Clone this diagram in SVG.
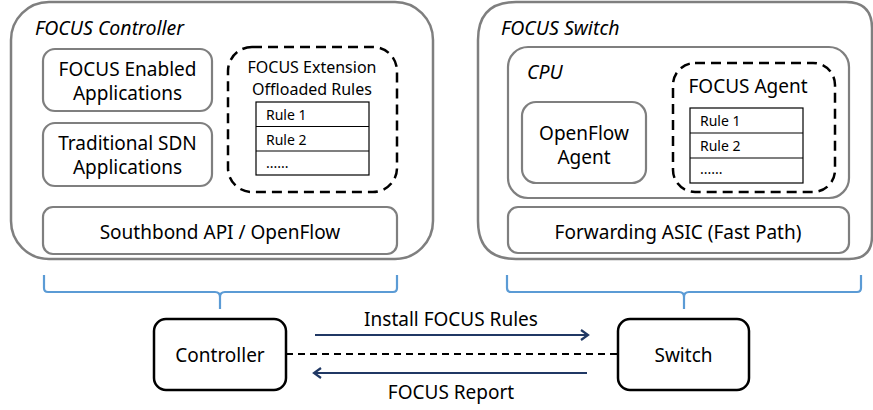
<svg xmlns="http://www.w3.org/2000/svg" width="873" height="410" viewBox="0 0 873 410">
<defs>
<style>
text{font-family:"Noto Sans","Open Sans","DejaVu Sans",sans-serif;fill:#000;}
.lbl{font-size:19px;text-anchor:middle;}
.ital{font-size:19.5px;font-style:italic;}
.small{font-size:16px;text-anchor:middle;}
.rule{font-size:14px;}
.outer{fill:#fff;stroke:#7f7f7f;stroke-width:2.5;}
.inner{fill:#fff;stroke:#7f7f7f;stroke-width:2.2;}
.dash{fill:none;stroke:#000;stroke-width:2.5;stroke-dasharray:10 6;}
.tbl{fill:#fff;stroke:#000;stroke-width:1.2;}
.brace{fill:none;stroke:#5b9bd5;stroke-width:2.2;}
.node{fill:#fff;stroke:#000;stroke-width:2.5;}
.arrow{fill:none;stroke:#203864;stroke-width:2.2;}
</style>
<marker id="ah" markerUnits="userSpaceOnUse" markerWidth="14" markerHeight="14" refX="10" refY="7" orient="auto">
<path d="M3,2 L10,7 L3,12" fill="none" stroke="#203864" stroke-width="2.2"/>
</marker>
</defs>

<g id="focus-controller">
<rect class="outer" x="11" y="2" width="422" height="257" rx="38" ry="38"/>
<text class="ital" x="35" y="35">FOCUS Controller</text>
<g id="focus-enabled-apps">
<rect class="inner" x="43" y="49" width="169" height="62" rx="12"/>
<text class="lbl" x="127.5" y="76">FOCUS Enabled</text>
<text class="lbl" x="127.5" y="100">Applications</text>
</g>
<g id="traditional-sdn-apps">
<rect class="inner" x="43" y="123" width="169" height="63" rx="12"/>
<text class="lbl" x="127.5" y="150">Traditional SDN</text>
<text class="lbl" x="127.5" y="174">Applications</text>
</g>
<g id="focus-extension">
<rect class="dash" x="228" y="47" width="169" height="145" rx="24"/>
<text class="small" x="312" y="73">FOCUS Extension</text>
<text class="small" x="312" y="95">Offloaded  Rules</text>
<rect class="tbl" x="256" y="102" width="113" height="73"/>
<line class="tbl" x1="256" y1="126.5" x2="369" y2="126.5"/>
<line class="tbl" x1="256" y1="151" x2="369" y2="151"/>
<text class="rule" x="266" y="120">Rule 1</text>
<text class="rule" x="266" y="145">Rule 2</text>
<text class="rule" x="266" y="168">......</text>
</g>
<g id="southbound-api">
<rect class="inner" x="43" y="207" width="354" height="47" rx="10"/>
<text class="lbl" x="220" y="239">Southbond  API / OpenFlow</text>
</g>
</g>

<g id="focus-switch">
<path class="outer" d="M516,2 H846 Q872,2 872,28 V236 Q872,259 849,259 H516 Q478,259 478,221 V40 Q478,2 516,2 Z"/>
<text class="ital" x="501" y="35">FOCUS Switch</text>
<g id="cpu">
<rect class="inner" x="508" y="47" width="341" height="151" rx="20"/>
<text class="ital" x="527" y="79">CPU</text>
</g>
<g id="openflow-agent">
<rect class="inner" x="522" y="102" width="124" height="81" rx="14"/>
<text class="lbl" x="584" y="140">OpenFlow</text>
<text class="lbl" x="584" y="164">Agent</text>
</g>
<g id="focus-agent">
<rect class="dash" x="673" y="63" width="162" height="129" rx="22"/>
<text class="lbl" x="748" y="93">FOCUS Agent</text>
<rect class="tbl" x="690" y="108" width="113" height="75"/>
<line class="tbl" x1="690" y1="133" x2="803" y2="133"/>
<line class="tbl" x1="690" y1="158" x2="803" y2="158"/>
<text class="rule" x="700" y="126">Rule 1</text>
<text class="rule" x="700" y="151">Rule 2</text>
<text class="rule" x="700" y="174">......</text>
</g>
<g id="forwarding-asic">
<rect class="inner" x="508" y="207" width="341" height="46" rx="10"/>
<text class="lbl" x="678" y="239">Forwarding ASIC (Fast Path)</text>
</g>
</g>

<g id="controller">
<rect class="node" x="154" y="319" width="132" height="71" rx="12"/>
<text class="lbl" x="220" y="362">Controller</text>
</g>
<g id="switch">
<rect class="node" x="618" y="319" width="131" height="71" rx="12"/>
<text class="lbl" x="683.5" y="362">Switch</text>
</g>

<g id="connectors">
<path class="brace" d="M44,275 V288 Q44,292 48,292 H215 Q220,292 220,297 V309 M220,297 Q220,292 225,292 H393 Q397,292 397,288 V275"/>
<path class="brace" d="M507,275 V288 Q507,292 511,292 H679 Q684,292 684,297 V309 M684,297 Q684,292 689,292 H857 Q861,292 861,288 V275"/>
<line x1="286" y1="354" x2="618" y2="354" stroke="#000" stroke-width="2.2" stroke-dasharray="7 5"/>
<line class="arrow" x1="315" y1="335" x2="588" y2="335" marker-end="url(#ah)"/>
<line class="arrow" x1="587" y1="373" x2="314" y2="373" marker-end="url(#ah)"/>
<text class="lbl" x="451" y="326">Install FOCUS Rules</text>
<text class="lbl" x="451" y="399">FOCUS Report</text>
</g>
</svg>
